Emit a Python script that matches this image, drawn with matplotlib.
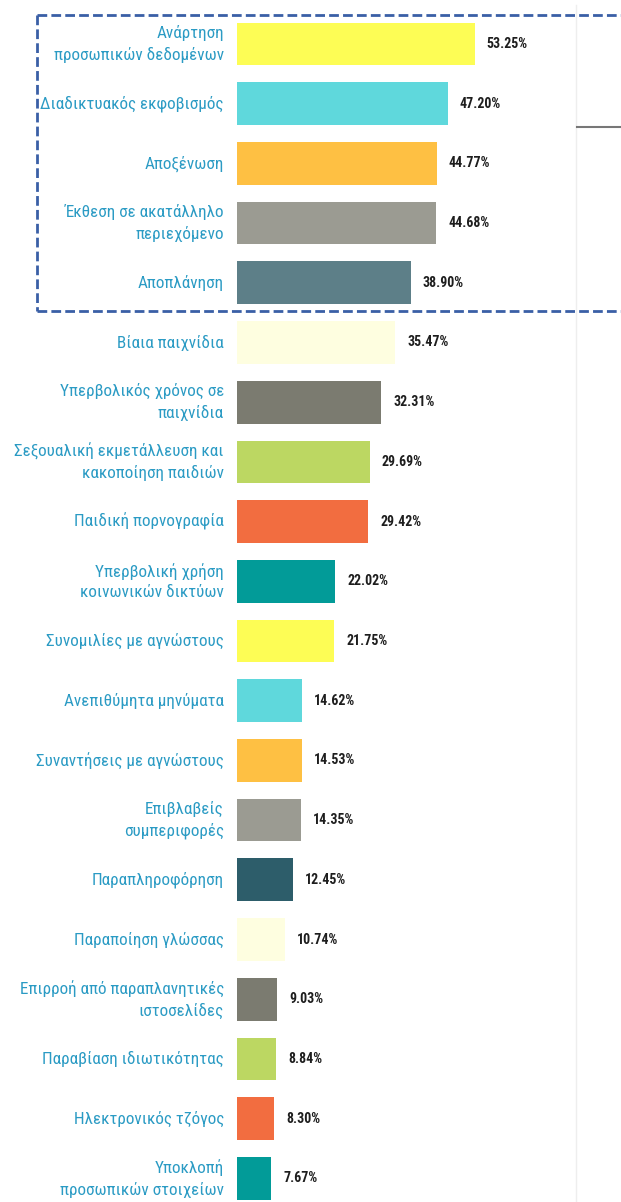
import matplotlib
matplotlib.use("Agg")
import matplotlib.pyplot as plt
import matplotlib.font_manager as fm

categories = [
    "Ανάρτηση\nπροσωπικών δεδομένων",
    "Διαδικτυακός εκφοβισμός",
    "Αποξένωση",
    "Έκθεση σε ακατάλληλο\nπεριεχόμενο",
    "Αποπλάνηση",
    "Βίαια παιχνίδια",
    "Υπερβολικός χρόνος σε\nπαιχνίδια",
    "Σεξουαλική εκμετάλλευση και\nκακοποίηση παιδιών",
    "Παιδική πορνογραφία",
    "Υπερβολική χρήση\nκοινωνικών δικτύων",
    "Συνομιλίες με αγνώστους",
    "Ανεπιθύμητα μηνύματα",
    "Συναντήσεις με αγνώστους",
    "Επιβλαβείς\nσυμπεριφορές",
    "Παραπληροφόρηση",
    "Παραποίηση γλώσσας",
    "Επιρροή από παραπλανητικές\nιστοσελίδες",
    "Παραβίαση ιδιωτικότητας",
    "Ηλεκτρονικός τζόγος",
    "Υποκλοπή\nπροσωπικών στοιχείων",
]
values = [53.25, 47.20, 44.77, 44.68, 38.90, 35.47, 32.31, 29.69, 29.42, 22.02,
          21.75, 14.62, 14.53, 14.35, 12.45, 10.74, 9.03, 8.84, 8.30, 7.67]
bar_colors = ["#fdfd55", "#5fd8dc", "#fec043", "#9b9b92", "#5d7f88",
              "#fefee0", "#7b7b70", "#bcd762", "#f26d40", "#029b98",
              "#fdfd55", "#5fd8dc", "#fec043", "#9b9b92", "#2d5d6a",
              "#fefee0", "#7b7b70", "#bcd762", "#f26d40", "#029b98"]

avail = {f.name for f in fm.fontManager.ttflist}
fam = [f for f in ["Roboto Condensed", "Fira Sans Condensed", "Liberation Sans Narrow"] if f in avail] + ["DejaVu Sans"]

W, H = 621, 1202
fig = plt.figure(figsize=(W / 100, H / 100), dpi=100)
fig.patch.set_facecolor("white")

px_per_unit = 4.464
x0 = 237
ax = fig.add_axes([x0 / W, 0, 1 - x0 / W, 1])
ax.set_xlim(0, (W - x0) / px_per_unit)
pitch = 59.7
c1 = 44
ax.set_ylim(19 + (H - (c1 + 19 * pitch)) / pitch, -c1 / pitch)
ax.axis("off")

ypos = list(range(len(values)))
ax.barh(ypos, values, height=0.715, color=bar_colors, edgecolor="none")

for y, v, lab in zip(ypos, values, categories):
    ax.annotate(f"{v:.2f}%", xy=(v, y), xytext=(12, 0), textcoords="offset pixels",
                ha="left", va="center", fontsize=10, fontweight="bold",
                color="#1e1e1e", family=fam)
    ax.annotate(lab, xy=(0, y), xytext=(-13, 0), textcoords="offset pixels",
                ha="right", va="center", fontsize=12.3, color="#2b9bc4",
                family=fam, linespacing=1.45,
                annotation_clip=False)

def fx(px):
    return px / W

def fy(py):
    return 1 - py / H

fig.add_artist(plt.Line2D([fx(576), fx(576)], [fy(5), fy(1202)], color="#eeeeee", lw=1))
fig.add_artist(plt.Line2D([fx(577), fx(621)], [fy(127), fy(127)], color="#777777", lw=1.5))
dash = dict(color="#3a5fa6", lw=2, ls=(0, (3.5, 1.5)))
fig.add_artist(plt.Line2D([fx(37), fx(621)], [fy(15), fy(15)], **dash))
fig.add_artist(plt.Line2D([fx(37), fx(621)], [fy(311), fy(311)], **dash))
fig.add_artist(plt.Line2D([fx(37), fx(37)], [fy(15), fy(311)], **dash))

fig.savefig("out.png", dpi=100, facecolor="white")
